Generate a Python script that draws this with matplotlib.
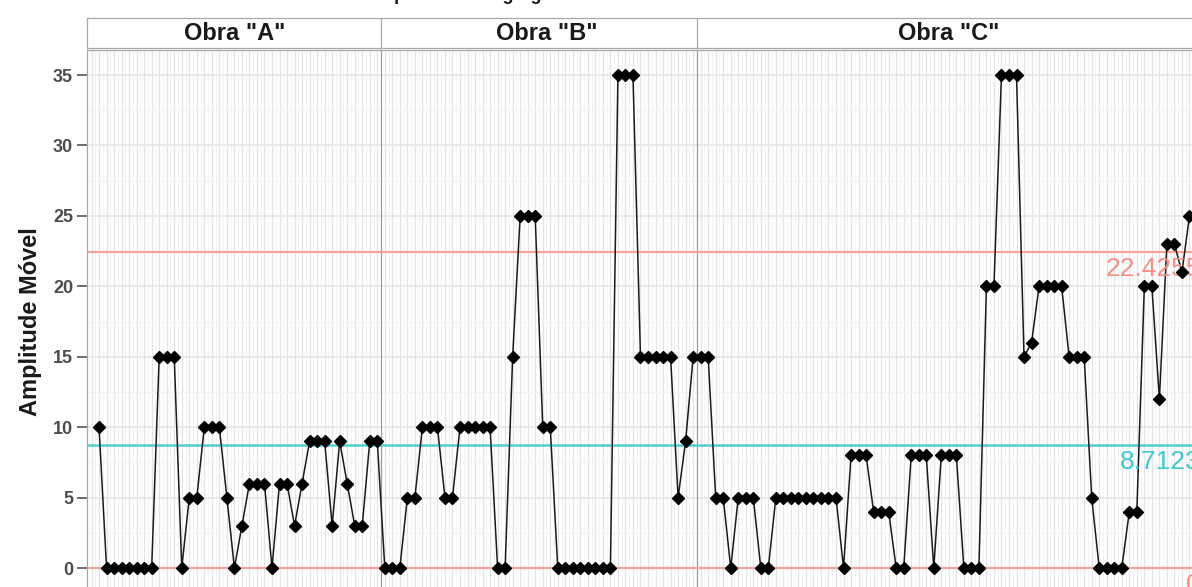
import matplotlib
matplotlib.use("Agg")
import matplotlib.pyplot as plt
import numpy as np
from matplotlib.patches import Rectangle
from matplotlib.transforms import blended_transform_factory

plt.rcParams['font.family'] = ['Liberation Sans', 'DejaVu Sans']

# ---------------- data ----------------
obras = ['Obra "A"', 'Obra "B"', 'Obra "C"']
mr_a = [np.nan, 10, 0, 0, 0, 0, 0, 0, 0, 15, 15, 15, 0, 5, 5, 10, 10, 10, 5, 0, 3,
        6, 6, 6, 0, 6, 6, 3, 6, 9, 9, 9, 3, 9, 6, 3, 3, 9, 9]
mr_b = [0, 0, 0, 5, 5, 10, 10, 10, 5, 5, 10, 10, 10, 10, 10, 0, 0, 15, 25, 25, 25,
        10, 10, 0, 0, 0, 0, 0, 0, 0, 0, 35, 35, 35, 15, 15, 15, 15, 15, 5, 9, 15]
mr_c = [15, 15, 5, 5, 0, 5, 5, 5, 0, 0, 5, 5, 5, 5, 5, 5, 5, 5, 5, 0, 8, 8, 8, 4, 4, 4,
        0, 0, 8, 8, 8, 0, 8, 8, 8, 0, 0, 0, 20, 20, 35, 35, 35, 15, 16, 20, 20, 20, 20,
        15, 15, 15, 5, 0, 0, 0, 0, 4, 4, 20, 20, 12, 23, 23, 21, 25, 25]
lsc = 22.4255
lc = 8.7123
lic = 0
lim_labels = ["22.4255", "8.7123", "0"]
y_ticks = [0, 5, 10, 15, 20, 25, 30, 35]
y_label = "Amplitude Móvel"
title = "Carta de Controle das Resistências por Obra e Agregado"

# ---------------- figure ----------------
W, H = 1192, 587
fig = plt.figure(figsize=(W / 100, H / 100), dpi=100)

groups = [mr_a, mr_b, mr_c]
vals = np.concatenate([np.array(g, dtype=float) for g in groups])
x = np.arange(len(vals))
n = len(vals)
xlim = (-0.6, n - 1 + 0.6)

px_l, px_r = 87, 1201.5
px_top, px_bot = 50.4, 592.7
ax = fig.add_axes([px_l / W, (H - px_bot) / H, (px_r - px_l) / W, (px_bot - px_top) / H])
ax.set_xlim(*xlim)
ax.set_ylim(-1.75, 36.75)
ax.set_facecolor('white')

# grid
for xv in np.arange(0, n):
    ax.axvline(xv, color='#e3e3e3', lw=0.9, zorder=0)
for xv in np.arange(0.5, n - 1, 1.0):
    ax.axvline(xv, color='#f1f1f1', lw=0.6, zorder=0)
for yv in y_ticks:
    ax.axhline(yv, color='#e6e6e6', lw=1.2, zorder=0)
for yv in np.arange(2.5, 36, 5):
    ax.axhline(yv, color='#f3f3f3', lw=0.7, zorder=0)

# group separators
bounds = np.cumsum([len(g) for g in groups])[:-1] - 0.5
for b in bounds:
    ax.axvline(b, color='#9a9a9a', lw=0.9, zorder=1)

# limit lines
ax.axhline(lsc, color='#f6a29b', lw=1.6, zorder=2)
ax.axhline(lic, color='#f6a29b', lw=1.6, zorder=2)
ax.axhline(lc, color='#4fd0cf', lw=1.8, zorder=2)

# data
ax.plot(x, vals, color='#1a1a1a', lw=1.1, zorder=3)
ax.plot(x, vals, linestyle='none', marker='D', ms=6, color='black', zorder=4)

# limit labels
tr = blended_transform_factory(ax.transAxes, ax.transData)
ax.text(0.9995, lsc - 0.35, lim_labels[0], transform=tr, ha='right', va='top',
        fontsize=19, color='#f58f86')
ax.text(0.9995, lc - 0.35, lim_labels[1], transform=tr, ha='right', va='top',
        fontsize=19, color='#3fc9cc')
ax.text(0.9995, lic - 0.35, lim_labels[2], transform=tr, ha='right', va='top',
        fontsize=19, color='#f58f86')

# axes styling
ax.set_xticks([])
ax.set_yticks(y_ticks)
ax.set_yticklabels([str(v) for v in y_ticks], fontsize=13, fontweight='bold', color='#4d4d4d')
ax.tick_params(axis='y', length=7, width=1.1, color='#444444', pad=3)
for s in ax.spines.values():
    s.set_color('#a8a8a8')
    s.set_linewidth(0.9)
ax.set_ylabel(y_label, fontsize=17, fontweight='bold', color='#1a1a1a', labelpad=8)

# strip
st_top, st_bot = 18, 48
sax = fig.add_axes([px_l / W, (H - st_bot) / H, (px_r - px_l) / W, (st_bot - st_top) / H])
sax.set_xlim(*xlim)
sax.set_ylim(0, 1)
sax.set_xticks([])
sax.set_yticks([])
for s in sax.spines.values():
    s.set_color('#a8a8a8')
    s.set_linewidth(0.9)
for b in bounds:
    sax.axvline(b, color='#a8a8a8', lw=0.9)
centers = [19.0, 60.5, 114.0]
for c, lab in zip(centers, obras):
    sax.text(c, 0.5, lab, ha='center', va='center', fontsize=17, fontweight='bold',
             color='#1a1a1a')

# title (mostly cropped)
fig.text(px_l / W, 1 + 0.5 / H, title, fontsize=13, fontweight='bold', va='baseline',
         ha='left', color='#1a1a1a')

fig.savefig('out.png', dpi=100)
